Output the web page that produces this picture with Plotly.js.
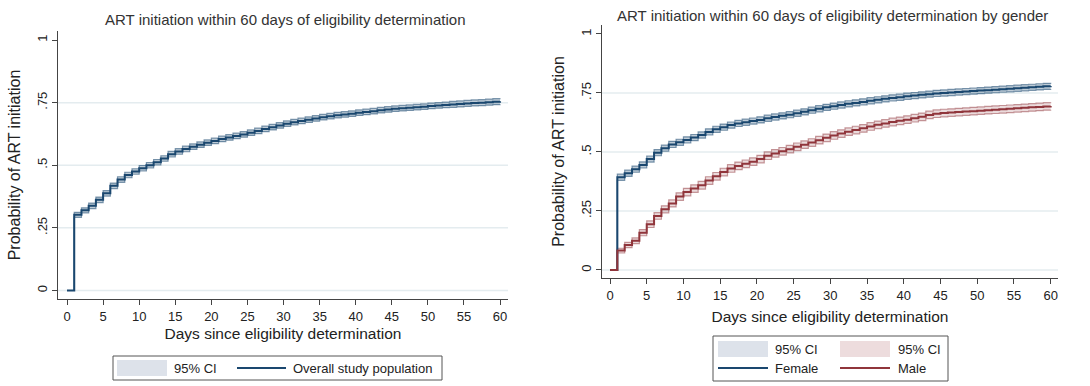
<!DOCTYPE html>
<html>
<head>
<meta charset="utf-8">
<script src="https://cdn.plot.ly/plotly-3.0.1.min.js"></script>
<style>html,body{margin:0;padding:0;background:#fff;}#chart{width:1090px;height:386px;}</style>
</head>
<body>
<div id="chart"></div>
<script>
// ---------- data ----------
var days = [0,1,2,3,4,5,6,7,8,9,10,11,12,13,14,15,16,17,18,19,20,21,22,23,24,25,26,27,28,29,30,
  31,32,33,34,35,36,37,38,39,40,41,42,43,44,45,46,47,48,49,50,51,52,53,54,55,56,57,58,59,60];
var xTicks = [0,5,10,15,20,25,30,35,40,45,50,55,60];
var yTicks = [0,0.25,0.5,0.75,1];
var yTickText = ['0','.25','.5','.75','1'];

var overall = [0,.302,.320,.338,.362,.388,.418,.443,.461,.475,
  .488,.500,.512,.527,.544,.555,.565,.574,.582,.590,
  .597,.605,.611,.617,.623,.630,.637,.645,.652,.659,
  .666,.672,.677,.682,.687,.692,.696,.700,.703,.706,
  .710,.713,.716,.720,.723,.726,.728,.730,.732,.734,
  .737,.739,.741,.743,.745,.747,.749,.750,.752,.754,.756];
var overallLo = [0,.292,.310,.327,.351,.377,.407,.432,.450,.464,
  .477,.489,.501,.516,.533,.544,.554,.563,.571,.579,
  .586,.594,.600,.606,.612,.619,.626,.634,.641,.648,
  .655,.661,.666,.671,.676,.681,.685,.689,.692,.695,
  .699,.702,.705,.709,.712,.715,.717,.719,.721,.723,
  .726,.728,.730,.731,.733,.735,.737,.738,.740,.742,.744];
var overallHi = [0,.312,.330,.349,.373,.399,.429,.454,.472,.486,
  .499,.511,.523,.538,.555,.566,.576,.585,.593,.601,
  .608,.616,.622,.628,.634,.641,.648,.656,.663,.670,
  .677,.683,.688,.693,.698,.703,.707,.711,.714,.717,
  .721,.724,.727,.731,.734,.737,.739,.741,.743,.745,
  .748,.750,.752,.755,.757,.759,.761,.762,.764,.766,.768];

var female = [0,.393,.410,.427,.445,.470,.497,.516,.532,.541,
  .551,.561,.572,.585,.596,.605,.614,.621,.626,.631,
  .636,.643,.648,.653,.658,.664,.670,.677,.683,.689,
  .694,.699,.704,.708,.712,.717,.721,.725,.729,.732,
  .736,.739,.742,.745,.748,.750,.752,.754,.756,.758,
  .760,.762,.764,.766,.768,.770,.772,.774,.776,.778,.780];
var femaleLo = [0,.380,.397,.414,.432,.457,.484,.503,.519,.528,
  .538,.548,.559,.572,.583,.592,.601,.608,.613,.618,
  .623,.630,.635,.640,.645,.651,.657,.664,.670,.676,
  .681,.686,.691,.695,.699,.704,.708,.712,.716,.719,
  .723,.726,.729,.732,.735,.737,.739,.741,.743,.745,
  .747,.749,.751,.753,.755,.757,.759,.761,.763,.765,.767];
var femaleHi = [0,.406,.423,.440,.458,.483,.510,.529,.545,.554,
  .564,.574,.585,.598,.609,.618,.627,.634,.639,.644,
  .649,.656,.661,.666,.671,.677,.683,.690,.696,.702,
  .707,.712,.717,.721,.725,.730,.734,.738,.742,.745,
  .749,.752,.755,.758,.761,.763,.765,.767,.769,.771,
  .773,.775,.777,.779,.781,.783,.785,.787,.789,.791,.793];

var male = [0,.082,.106,.124,.158,.194,.229,.257,.282,.311,
  .330,.345,.359,.379,.397,.415,.430,.441,.450,.459,
  .470,.484,.494,.503,.512,.522,.531,.540,.550,.560,
  .570,.578,.586,.593,.600,.608,.615,.621,.627,.632,
  .637,.643,.649,.657,.662,.665,.667,.669,.671,.673,
  .675,.677,.679,.681,.683,.685,.687,.689,.691,.693,.695];
var maleLo = [0,.072,.095,.112,.145,.180,.215,.242,.267,.295,
  .314,.329,.343,.363,.381,.399,.414,.425,.434,.443,
  .454,.468,.478,.487,.496,.506,.515,.524,.534,.544,
  .554,.562,.570,.577,.584,.592,.599,.605,.611,.616,
  .621,.627,.633,.641,.646,.649,.651,.653,.655,.657,
  .659,.661,.663,.665,.667,.669,.671,.673,.675,.677,.679];
var maleHi = [0,.092,.117,.136,.171,.208,.243,.272,.297,.327,
  .346,.361,.375,.395,.413,.431,.446,.457,.466,.475,
  .486,.500,.510,.519,.528,.538,.547,.556,.566,.576,
  .586,.594,.602,.609,.616,.624,.631,.637,.643,.648,
  .653,.659,.665,.673,.678,.681,.683,.685,.687,.689,
  .691,.693,.695,.697,.699,.701,.703,.705,.707,.709,.711];

var titleLeft = 'ART initiation within 60 days of eligibility determination';
var titleRight = 'ART initiation within 60 days of eligibility determination by gender';
var xTitle = 'Days since eligibility determination';
var yTitle = 'Probability of ART initiation';
var ciLabel = '95% CI';
var overallLabel = 'Overall study population';
var femaleLabel = 'Female';
var maleLabel = 'Male';

// ---------- style ----------
var NAVY = '#1a476f', MAROON = '#90353b';
var NAVY_EDGE = 'rgba(26,71,111,0.55)', NAVY_FILL = 'rgba(26,71,111,0.28)';
var MAR_EDGE = 'rgba(144,53,59,0.50)', MAR_FILL = 'rgba(144,53,59,0.18)';
var FONT = 'Liberation Sans, Arial, sans-serif';
var W = 1090, H = 386;
function px(x){ return x / W; }
function py(y){ return 1 - y / H; }

function band(lo, hi, xa, ya, edge, fill){
  return [
    {x: days, y: lo, xaxis: xa, yaxis: ya, type: 'scatter', mode: 'lines',
     line: {shape: 'hv', color: edge, width: 1.2}, showlegend: false, hoverinfo: 'skip'},
    {x: days, y: hi, xaxis: xa, yaxis: ya, type: 'scatter', mode: 'lines', fill: 'tonexty',
     fillcolor: fill, line: {shape: 'hv', color: edge, width: 1.2}, showlegend: false, hoverinfo: 'skip'}
  ];
}
function curve(y, xa, ya, color, name){
  return {x: days, y: y, xaxis: xa, yaxis: ya, type: 'scatter', mode: 'lines', name: name,
    line: {shape: 'hv', color: color, width: 2}, showlegend: false};
}

var traces = [].concat(
  band(overallLo, overallHi, 'x', 'y', NAVY_EDGE, NAVY_FILL),
  [curve(overall, 'x', 'y', NAVY, overallLabel)],
  band(femaleLo, femaleHi, 'x2', 'y2', NAVY_EDGE, NAVY_FILL),
  band(maleLo, maleHi, 'x2', 'y2', MAR_EDGE, MAR_FILL),
  [curve(female, 'x2', 'y2', NAVY, femaleLabel), curve(male, 'x2', 'y2', MAROON, maleLabel)]
);

function xAxis(domain, range, anchor, standoff){
  return {domain: domain, range: range, anchor: anchor, tickmode: 'array', tickvals: xTicks,
    ticks: 'outside', ticklen: 5, tickcolor: '#444', showline: true, linecolor: '#444', linewidth: 1,
    showgrid: false, zeroline: false, tickfont: {family: FONT, size: 13, color: '#222'},
    title: {text: xTitle, font: {family: FONT, size: 15.5, color: '#222'}, standoff: standoff}};
}
function yAxis(domain, range, anchor){
  return {domain: domain, range: range, anchor: anchor, tickmode: 'array', tickvals: yTicks, ticktext: yTickText,
    tickangle: -90, ticks: 'outside', ticklen: 5, tickcolor: '#444', showline: true, linecolor: '#444', linewidth: 1,
    showgrid: false, zeroline: false, tickfont: {family: FONT, size: 13, color: '#222'},
    title: {text: yTitle, font: {family: FONT, size: 16, color: '#222'}, standoff: 10}};
}

var shapes = [];
var grid = [0, 0.25, 0.5, 0.75];
grid.forEach(function(g){
  shapes.push({type: 'line', xref: 'x domain', yref: 'y', x0: 0, x1: 1, y0: g, y1: g, layer: 'below',
    line: {color: '#e4ecef', width: 1.5}});
  shapes.push({type: 'line', xref: 'x2 domain', yref: 'y2', x0: 0, x1: 1, y0: g, y1: g, layer: 'below',
    line: {color: '#e4ecef', width: 1.5}});
});

var annotations = [
  {text: titleLeft, xref: 'paper', yref: 'paper', x: px(285), y: py(20), xanchor: 'center', yanchor: 'middle',
   showarrow: false, font: {family: FONT, size: 15, color: '#333'}},
  {text: titleRight, xref: 'paper', yref: 'paper', x: px(832), y: py(15), xanchor: 'center', yanchor: 'middle',
   showarrow: false, font: {family: FONT, size: 15, color: '#333'}}
];

// legends (drawn as boxes, swatches and text)
function legendBox(x0, y0, x1, y1){
  shapes.push({type: 'rect', xref: 'paper', yref: 'paper', x0: px(x0), x1: px(x1), y0: py(y1), y1: py(y0),
    line: {color: '#555', width: 1}, fillcolor: 'rgba(0,0,0,0)'});
}
function swatchRect(x0, x1, yc, color){
  shapes.push({type: 'rect', xref: 'paper', yref: 'paper', x0: px(x0), x1: px(x1), y0: py(yc + 8), y1: py(yc - 8),
    line: {width: 0}, fillcolor: color});
}
function swatchLine(x0, x1, yc, color){
  shapes.push({type: 'line', xref: 'paper', yref: 'paper', x0: px(x0), x1: px(x1), y0: py(yc), y1: py(yc),
    line: {width: 2, color: color}});
}
function label(text, x, yc){
  annotations.push({text: text, xref: 'paper', yref: 'paper', x: px(x), y: py(yc), xanchor: 'left', yanchor: 'middle',
    showarrow: false, font: {family: FONT, size: 13, color: '#222'}});
}
legendBox(113, 356, 442, 380);
swatchRect(117, 167, 368, '#dde2ea');
label(ciLabel, 172, 368);
swatchLine(237, 286, 368, NAVY);
label(overallLabel, 291, 368);

legendBox(713, 336, 948, 381);
swatchRect(718, 768, 349, '#dde2ea');
label(ciLabel, 773, 349);
swatchRect(840, 890, 349, '#eddcdd');
label(ciLabel, 896, 349);
swatchLine(718, 768, 368, NAVY);
label(femaleLabel, 773, 368);
swatchLine(840, 890, 368, MAROON);
label(maleLabel, 896, 368);

var layout = {
  width: W, height: H, margin: {l: 0, r: 0, t: 0, b: 0},
  paper_bgcolor: '#fff', plot_bgcolor: '#fff', showlegend: false,
  font: {family: FONT},
  xaxis: xAxis([px(58), px(508)], [-1.25, 61.1], 'y', 5),
  yaxis: yAxis([py(299), py(31)], [-0.034, 1.036], 'x'),
  xaxis2: xAxis([px(602), px(1058)], [-1.09, 61.0], 'y2', 9),
  yaxis2: yAxis([py(278), py(25)], [-0.034, 1.038], 'x2'),
  shapes: shapes, annotations: annotations
};

Plotly.newPlot('chart', traces, layout, {displayModeBar: false, staticPlot: true});
</script>
</body>
</html>
